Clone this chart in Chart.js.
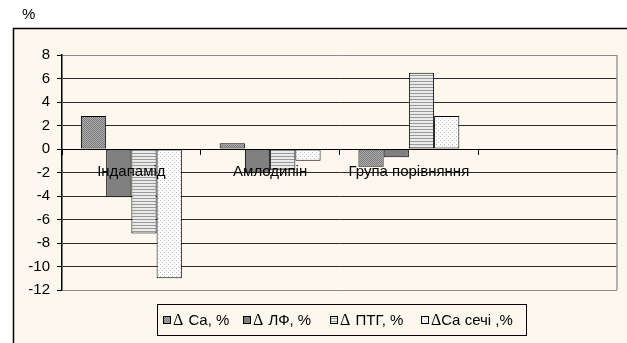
<!DOCTYPE html>
<html>
<head>
<meta charset="utf-8">
<script src="https://cdn.jsdelivr.net/npm/chart.js@4.4.1/dist/chart.umd.min.js"></script>
<style>
  html, body { margin: 0; padding: 0; background: #ffffff; }
  #wrap { position: relative; width: 627px; height: 343px; }
</style>
</head>
<body>
<div id="wrap"><canvas id="chart" width="627" height="343"></canvas></div>
<script>
// Groups on the category axis (last slot is left empty)
const categories = ['Індапамід', 'Амлодипін', 'Група порівняння', ''];

// Change of each indicator, %
const seriesNames = ['Δ Ca, %', 'Δ ЛФ, %', 'Δ ПТГ, %', 'ΔCa сечі ,%'];
const deltaCa      = [2.8, 0.5, -1.5, null];
const deltaLF      = [-4.1, -2.0, -0.7, null];
const deltaPTH     = [-7.2, -1.8, 6.5, null];
const deltaCaUrine = [-11.0, -1.0, 2.8, null];

// Value axis ticks
const yTicks = [8, 6, 4, 2, 0, -2, -4, -6, -8, -10, -12];
const unitLabel = '%';

const FONT = '"Liberation Sans", Arial, sans-serif';
const BG = '#fdf8ed';

// Small tiled fills for the bars
function makePattern(w, h, draw) {
  const c = document.createElement('canvas');
  c.width = w; c.height = h;
  const g = c.getContext('2d');
  draw(g);
  return g.createPattern(c, 'repeat');
}
const patCa = makePattern(2, 2, g => {
  g.fillStyle = '#b0b0b0'; g.fillRect(0, 0, 2, 2);
  g.fillStyle = '#787878'; g.fillRect(0, 0, 1, 1); g.fillRect(1, 1, 1, 1);
});
const solidLF = '#808080';
const patPTH = makePattern(2, 3, g => {
  g.fillStyle = '#eaeaea'; g.fillRect(0, 0, 2, 3);
  g.fillStyle = '#999999'; g.fillRect(0, 0, 2, 1);
});
const patUrine = makePattern(4, 4, g => {
  g.fillStyle = '#ffffff'; g.fillRect(0, 0, 4, 4);
  g.fillStyle = '#b8b8b8'; g.fillRect(0, 0, 1, 1); g.fillRect(2, 2, 1, 1);
});
const fills = [patCa, solidLF, patPTH, patUrine];

// Frame, unit label, plot border and boxed legend
const decorations = {
  id: 'decorations',
  beforeDraw(chart) {
    const ctx = chart.ctx;
    ctx.save();
    ctx.fillStyle = '#ffffff';
    ctx.fillRect(0, 0, chart.width, chart.height);
    ctx.fillStyle = BG;
    ctx.fillRect(13, 28, chart.width - 13, chart.height - 28);
    ctx.strokeStyle = '#000';
    ctx.lineWidth = 1.5;
    ctx.beginPath();
    ctx.moveTo(13.5, chart.height);
    ctx.lineTo(13.5, 28.5);
    ctx.lineTo(chart.width, 28.5);
    ctx.stroke();
    ctx.fillStyle = '#000';
    ctx.font = '15px ' + FONT;
    ctx.textBaseline = 'alphabetic';
    ctx.fillText(unitLabel, 22, 19);
    ctx.restore();
  },
  afterDraw(chart) {
    const ctx = chart.ctx;
    const a = chart.chartArea;
    ctx.save();
    ctx.strokeStyle = '#9a9a9a';
    ctx.lineWidth = 1.5;
    ctx.beginPath();
    ctx.moveTo(a.right, a.top);
    ctx.lineTo(a.right, a.bottom);
    ctx.stroke();

    // legend
    const boxL = 157, boxT = 304, boxR = 526, boxB = 335;
    ctx.fillStyle = BG;
    ctx.fillRect(boxL, boxT, boxR - boxL, boxB - boxT);
    ctx.strokeStyle = '#000';
    ctx.lineWidth = 1;
    ctx.strokeRect(boxL + 0.5, boxT + 0.5, boxR - boxL, boxB - boxT);
    const cy = 320;
    const markerX = [163, 243, 330, 421];
    chart.data.datasets.forEach((ds, i) => {
      const x = markerX[i];
      ctx.fillStyle = ds.backgroundColor;
      ctx.fillRect(x, cy - 4, 7, 7);
      ctx.strokeStyle = '#000';
      ctx.strokeRect(x + 0.5, cy - 3.5, 7, 7);
      let tx = x + 10;
      ctx.fillStyle = '#000';
      ctx.textBaseline = 'middle';
      let text = ds.label;
      if (text.startsWith('Δ')) {
        ctx.font = '16px "Liberation Serif", serif';
        ctx.fillText('Δ', tx, cy + 1);
        tx += ctx.measureText('Δ').width + (text[1] === ' ' ? 1 : 0);
        text = text.slice(1);
      }
      ctx.font = '15px ' + FONT;
      ctx.fillText(text, tx, cy + 1);
    });
    ctx.restore();
  }
};

const datasets = [deltaCa, deltaLF, deltaPTH, deltaCaUrine].map((vals, i) => ({
  label: seriesNames[i],
  data: vals,
  backgroundColor: fills[i],
  borderColor: '#000',
  borderWidth: 1,
  borderSkipped: false,
  categoryPercentage: 4 / 5.5,
  barPercentage: 1
}));

new Chart(document.getElementById('chart'), {
  type: 'bar',
  data: { labels: categories, datasets },
  plugins: [decorations],
  options: {
    responsive: false,
    animation: false,
    events: [],
    layout: { padding: { left: 12, right: 10, top: 55, bottom: 53 } },
    plugins: { legend: { display: false }, tooltip: { enabled: false } },
    scales: {
      x: {
        position: { y: 0 },
        offset: true,
        grid: { drawOnChartArea: false, drawTicks: true, tickLength: 5, color: '#000', offset: true },
        border: { display: true, color: '#000', width: 1, z: 1 },
        ticks: { color: '#000', font: { family: FONT, size: 15 }, padding: 9, maxRotation: 0, autoSkip: false, z: 1 }
      },
      y: {
        min: -12, max: 8,
        afterBuildTicks: s => { s.ticks = yTicks.map(v => ({ value: v })); },
        afterFit: s => { s.width = 50; },
        grid: {
          color: c => (c.tick && (c.tick.value === 8 || c.tick.value === -12)) ? '#8a8a8a' : '#2a2a2a',
          lineWidth: 1,
          tickLength: 5,
          tickColor: '#000'
        },
        border: { display: true, color: '#000', width: 1.5 },
        ticks: { color: '#000', font: { family: FONT, size: 15 }, padding: 7 }
      }
    }
  }
});
</script>
</body>
</html>
